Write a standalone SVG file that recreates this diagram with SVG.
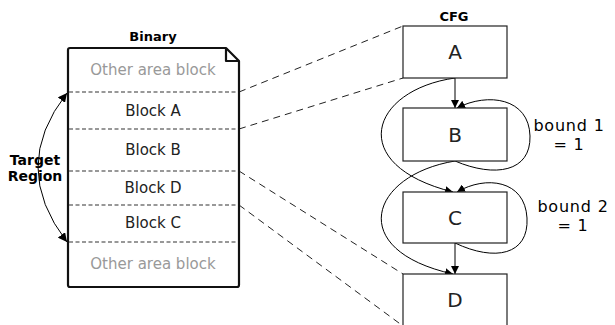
<svg xmlns="http://www.w3.org/2000/svg" width="615" height="325" viewBox="0 0 615 325">
<style>
  text { font-family: "DejaVu Sans", "Liberation Sans", sans-serif; }
  .title { font-weight: bold; font-size: 13px; fill: #000; text-anchor: middle; }
  .blk { font-size: 15px; fill: #222; text-anchor: middle; }
  .other { font-size: 15px; fill: #999; text-anchor: middle; }
  .sep { stroke: #777; stroke-width: 1.6; stroke-dasharray: 4 2.5; fill: none; }
  .box { fill: #fff; stroke: #222; stroke-width: 1.2; }
  .lbl { font-size: 20px; fill: #222; text-anchor: middle; }
  .map { stroke: #222; stroke-width: 1; stroke-dasharray: 7 5; fill: none; }
  .edge { stroke: #000; stroke-width: 1; fill: none; }
  .bound { font-size: 16px; fill: #000; text-anchor: middle; letter-spacing: 0.8px; }
</style>
<defs>
  <marker id="ah" viewBox="0 0 10 10" refX="10" refY="5" markerWidth="8" markerHeight="8" markerUnits="userSpaceOnUse" orient="auto">
    <path d="M0,0 L10,5 L0,10 z" fill="#000"/>
  </marker>
  <marker id="ah2" viewBox="0 0 10 10" refX="10" refY="5" markerWidth="9" markerHeight="9" markerUnits="userSpaceOnUse" orient="auto-start-reverse">
    <path d="M0,0 L10,5 L0,10 z" fill="#000"/>
  </marker>
</defs>

<g id="connectors">
  <path class="map" d="M239 92 L403 26"/>
  <path class="map" d="M239 129 L403 78"/>
  <path class="map" d="M239 171 L403 274"/>
  <path class="map" d="M239 205 L403 326"/>
  <path class="edge" d="M455 78 L455 108" marker-end="url(#ah)"/>
  <path class="edge" d="M455 243 L455 274" marker-end="url(#ah)"/>
  <path class="edge" d="M455 78 C370 90 345 165 453 192" marker-end="url(#ah)"/>
  <path class="edge" d="M455 161 C370 175 345 250 453 274" marker-end="url(#ah)"/>
  <path class="edge" d="M455 161 C495 178 531 172 530 136 C529 98 488 92 457 108" marker-end="url(#ah)"/>
  <path class="edge" d="M455 243 C495 262 529 255 527 218 C525 180 486 175 457 192" marker-end="url(#ah)"/>
  <path class="edge" d="M67 93 Q9 167 67 242" marker-start="url(#ah2)" marker-end="url(#ah2)"/>
</g>

<g id="binary">
  <text class="title" x="153" y="41">Binary</text>
  <path d="M70 48 L226 48 L239 61 L239 285 Q239 287 237 287 L70 287 Q68 287 68 285 L68 50 Q68 48 70 48 Z" fill="#fff" stroke="#111" stroke-width="2.2" stroke-linejoin="round"/>
  <path d="M226 48 L226 61 L239 61" fill="none" stroke="#111" stroke-width="2.2" stroke-linejoin="round"/>
  <path class="sep" d="M69 92 L238 92"/>
  <path class="sep" d="M69 129 L238 129"/>
  <path class="sep" d="M69 171 L238 171"/>
  <path class="sep" d="M69 205 L238 205"/>
  <path class="sep" d="M69 242 L238 242"/>
  <text class="other" x="153" y="75">Other area block</text>
  <text class="blk" x="153" y="116">Block A</text>
  <text class="blk" x="153" y="155">Block B</text>
  <text class="blk" x="153" y="193">Block D</text>
  <text class="blk" x="153" y="228">Block C</text>
  <text class="other" x="153" y="269">Other area block</text>
</g>

<g id="target-region">
  <text class="title" x="35" y="165" style="font-size:14px">Target</text>
  <text class="title" x="35" y="181" style="font-size:14px">Region</text>
</g>

<g id="cfg-title"><text class="title" x="454" y="21">CFG</text></g>

<g id="node-A">
  <rect class="box" x="403" y="26" width="104" height="52"/>
  <text class="lbl" x="455" y="59">A</text>
</g>
<g id="node-B">
  <rect class="box" x="403" y="108" width="104" height="53"/>
  <text class="lbl" x="455" y="142">B</text>
</g>
<g id="node-C">
  <rect class="box" x="403" y="192" width="104" height="51"/>
  <text class="lbl" x="455" y="225">C</text>
</g>
<g id="node-D">
  <rect class="box" x="403" y="274" width="104" height="52"/>
  <text class="lbl" x="455" y="307">D</text>
</g>

<g id="bound1">
  <text class="bound" x="569" y="131">bound 1</text>
  <text class="bound" x="569" y="150">= 1</text>
</g>
<g id="bound2">
  <text class="bound" x="573" y="212">bound 2</text>
  <text class="bound" x="573" y="231">= 1</text>
</g>
</svg>
